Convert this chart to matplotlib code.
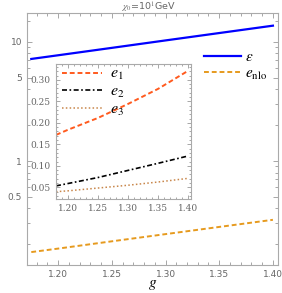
import matplotlib
matplotlib.use("Agg")
import matplotlib.pyplot as plt
from matplotlib.ticker import FixedLocator, MultipleLocator, NullFormatter

plt.rcParams['mathtext.fontset'] = 'stix'

# main panel data (log scale)
g_main = [1.175, 1.20, 1.25, 1.30, 1.35, 1.40]
eps = [7.2, 7.73, 8.92, 10.3, 11.88, 13.7]
e_nlo = [0.172, 0.184, 0.2118, 0.2434, 0.2797, 0.321]

# inset data
g_in = [1.18, 1.20, 1.25, 1.30, 1.35, 1.40]
e1 = [0.172, 0.184, 0.2115, 0.244, 0.279, 0.321]
e2 = [0.0535, 0.059, 0.073, 0.0895, 0.106, 0.123]
e3 = [0.040, 0.042, 0.0485, 0.055, 0.0625, 0.071]

tick_gray = '#999999'

fig = plt.figure(figsize=(2.82, 2.93), dpi=100)
ax = fig.add_axes([0.0957, 0.0956, 0.890, 0.860])

ax.plot(g_main, eps, color='#0000ff', lw=1.6, label=r'$\epsilon$')
ax.plot(g_main, e_nlo, color='#e69a1e', lw=1.4, ls=(0, (2.5, 1.5)), label=r'$e_{\rm nlo}$')
ax.set_yscale('log')
ax.set_xlim(1.171, 1.4047)
ax.set_ylim(0.134, 17.5)
ax.xaxis.set_major_locator(MultipleLocator(0.05))
ax.xaxis.set_minor_locator(MultipleLocator(0.01))
ax.xaxis.set_major_formatter(matplotlib.ticker.FormatStrFormatter('%.2f'))
ax.yaxis.set_major_locator(FixedLocator([0.5, 1, 5, 10]))
ax.yaxis.set_major_formatter(matplotlib.ticker.FixedFormatter(['0.5', '1', '5', '10']))
ax.yaxis.set_minor_locator(FixedLocator([0.2, 0.3, 0.4, 0.6, 0.7, 0.8, 0.9, 2, 3, 4, 6, 7, 8, 9, 15]))
ax.yaxis.set_minor_formatter(NullFormatter())
ax.tick_params(which='both', direction='in', top=True, right=True, color=tick_gray,
               labelcolor='#666666', labelsize=6.5, width=0.6)
ax.tick_params(which='major', length=3.5)
ax.tick_params(which='minor', length=2)
for s in ax.spines.values():
    s.set_color('#aaaaaa')
    s.set_linewidth(0.8)
ax.set_xlabel(r'$g$', fontsize=11, labelpad=-1)
fig.text(0.525, 1 - 7.5 / 293, r'$\chi_0$=10$^1$GeV', fontsize=6.8, color='#666666',
         ha='center', va='center')
ax.legend(loc='upper right', bbox_to_anchor=(1.0, 0.90), frameon=False, fontsize=11,
          handlelength=2.4, handletextpad=0.3, labelspacing=0.12, borderaxespad=0.3)

# inset
axi = fig.add_axes([0.1975, 0.3208, 0.480, 0.461])
axi.plot(g_in, e1, color='#ff5a1e', lw=1.4, ls=(0, (2.5, 1.5)), label=r'$e_1$')
axi.plot(g_in, e2, color='black', lw=1.2, ls=(0, (3, 1.5, 1, 1.5)), label=r'$e_2$')
axi.plot(g_in, e3, color='#c8864a', lw=1.1, ls=(0, (1, 1.5)), label=r'$e_3$')
axi.set_xlim(1.1795, 1.405)
axi.set_ylim(0.023, 0.337)
axi.xaxis.set_major_locator(MultipleLocator(0.05))
axi.xaxis.set_minor_locator(MultipleLocator(0.01))
axi.xaxis.set_major_formatter(matplotlib.ticker.FormatStrFormatter('%.2f'))
axi.yaxis.set_major_locator(MultipleLocator(0.05))
axi.yaxis.set_minor_locator(MultipleLocator(0.01))
axi.yaxis.set_major_formatter(matplotlib.ticker.FormatStrFormatter('%.2f'))
axi.tick_params(which='both', direction='in', top=True, right=True, color=tick_gray,
                labelcolor='#666666', labelsize=6.5, width=0.6)
axi.tick_params(which='major', length=3)
axi.tick_params(which='minor', length=1.5)
for lab in axi.get_xticklabels() + axi.get_yticklabels():
    lab.set_family('serif')
for s in axi.spines.values():
    s.set_color('#aaaaaa')
    s.set_linewidth(0.8)
axi.legend(loc='upper left', bbox_to_anchor=(0.0, 1.03), frameon=False, fontsize=11.5,
           handlelength=2.5, handletextpad=0.5, labelspacing=0.1, borderaxespad=0.0)

fig.savefig('out.png', dpi=100)
